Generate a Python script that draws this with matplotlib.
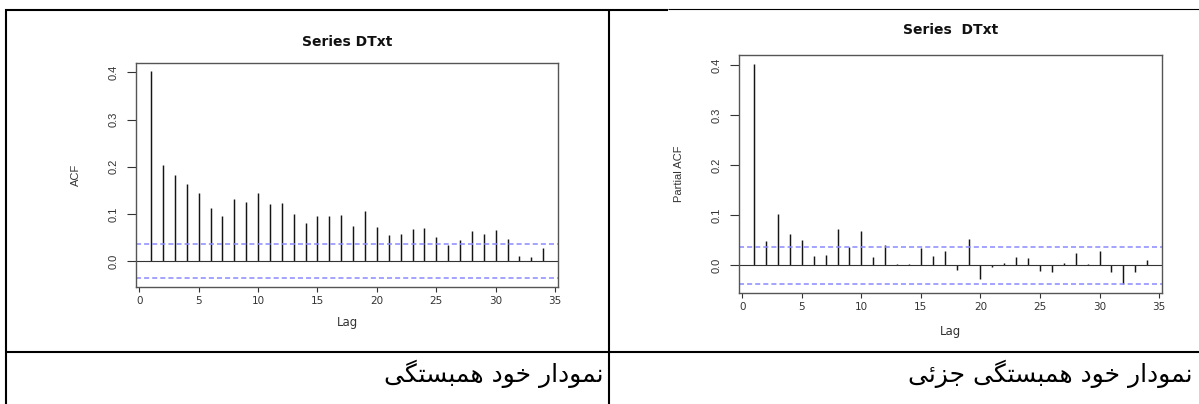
import matplotlib
matplotlib.use('Agg')
import matplotlib.pyplot as plt
from matplotlib.lines import Line2D

# ---------------- data ----------------
lags = list(range(1, 35))
acf_values = [0.403, 0.203, 0.182, 0.163, 0.145, 0.112, 0.095, 0.131, 0.126, 0.145,
              0.120, 0.122, 0.100, 0.080, 0.095, 0.096, 0.098, 0.075, 0.105, 0.071,
              0.056, 0.058, 0.068, 0.069, 0.050, 0.033, 0.045, 0.063, 0.057, 0.065,
              0.047, 0.011, 0.008, 0.028]
pacf_values = [0.403, 0.048, 0.102, 0.063, 0.051, 0.018, 0.020, 0.073, 0.036, 0.068,
               0.016, 0.040, 0.003, 0.002, 0.034, 0.019, 0.028, -0.009, 0.052, -0.028,
               -0.003, 0.004, 0.017, 0.014, -0.011, -0.013, 0.004, 0.025, 0.002, 0.029,
               -0.014, -0.037, -0.013, 0.010]
conf_limit = 0.037
x_ticks = [0, 5, 10, 15, 20, 25, 30, 35]
y_ticks = [0.0, 0.1, 0.2, 0.3, 0.4]
y_tick_labels = ['0.0', '0.1', '0.2', '0.3', '0.4']
titles = ['Series DTxt', 'Series  DTxt']
ylabels = ['ACF', 'Partial ACF']
xlabel = 'Lag'
captions = ['نمودار خود همبستگی', 'نمودار خود همبستگی جزئی']

# ---------------- minimal Arabic/Persian shaping ----------------
FORMS = {
    'ن': ('\uFEE5', '\uFEE6', '\uFEE7', '\uFEE8'),
    'م': ('\uFEE1', '\uFEE2', '\uFEE3', '\uFEE4'),
    'و': ('\uFEED', '\uFEEE'),
    'د': ('\uFEA9', '\uFEAA'),
    'ا': ('\uFE8D', '\uFE8E'),
    'ر': ('\uFEAD', '\uFEAE'),
    'ز': ('\uFEAF', '\uFEB0'),
    'خ': ('\uFEA5', '\uFEA6', '\uFEA7', '\uFEA8'),
    'ه': ('\uFEE9', '\uFEEA', '\uFEEB', '\uFEEC'),
    'ب': ('\uFE8F', '\uFE90', '\uFE91', '\uFE92'),
    'س': ('\uFEB1', '\uFEB2', '\uFEB3', '\uFEB4'),
    'ت': ('\uFE95', '\uFE96', '\uFE97', '\uFE98'),
    'گ': ('\uFB92', '\uFB93', '\uFB94', '\uFB95'),
    'ی': ('\uFBFC', '\uFBFD', '\uFBFE', '\uFBFF'),
    'ج': ('\uFE9D', '\uFE9E', '\uFE9F', '\uFEA0'),
    'ئ': ('\uFE89', '\uFE8A', '\uFE8B', '\uFE8C'),
}


def shape(text):
    out = []
    n = len(text)
    for i, ch in enumerate(text):
        if ch not in FORMS:
            out.append(ch)
            continue
        forms = FORMS[ch]
        prev = text[i - 1] if i > 0 else None
        nxt = text[i + 1] if i < n - 1 else None
        jp = prev in FORMS and len(FORMS[prev]) == 4
        jn = nxt in FORMS and len(forms) == 4
        if jp and jn:
            out.append(forms[3])
        elif jp:
            out.append(forms[1])
        elif jn:
            out.append(forms[2])
        else:
            out.append(forms[0])
    return ''.join(reversed(out))


# ---------------- figure ----------------
W, H = 1199, 404
fig = plt.figure(figsize=(W / 100, H / 100), dpi=100)
fig.patch.set_facecolor('white')


def fx(px):
    return px / W


def fy(py):
    return 1 - py / H


def make_axes(l, t, r, b):
    return fig.add_axes([fx(l), fy(b), fx(r) - fx(l), fy(t) - fy(b)])


ax1 = make_axes(136, 62.7, 558.3, 286.7)
ax2 = make_axes(739, 55, 1162.3, 292.7)

TICK_FONT = 'DejaVu Sans'
TXT = '#333333'


def draw(ax, values, title, ylabel, title_y, xlabel_y, ylabel_x):
    ax.vlines(lags, 0, values, color='#151515', lw=1.05)
    ax.axhline(0, color='#333333', lw=0.8)
    for s in (conf_limit, -conf_limit):
        ax.axhline(s, color='#8a8aff', lw=1.1, dashes=(3.3, 2.0))
    ax.set_xlim(-0.27, 35.27)
    ax.set_ylim(-0.0546, 0.4206)
    ax.set_xticks(x_ticks)
    ax.set_xticklabels([str(t) for t in x_ticks], fontsize=7.5, family=TICK_FONT,
                       color=TXT)
    ax.set_yticks(y_ticks)
    ax.set_yticklabels(y_tick_labels, fontsize=8, family='Liberation Sans',
                       rotation=90, va='center', color=TXT)
    ax.tick_params(axis='x', length=3.6, width=0.8, color='#333333', pad=3)
    ax.tick_params(axis='y', length=6.5, width=0.8, color='#333333', pad=6)
    for sp in ax.spines.values():
        sp.set_color('#555555')
        sp.set_linewidth(1.0)
    ax.set_title(title, fontsize=10, fontweight='bold', family='DejaVu Sans',
                 y=title_y, va='center', pad=0, color='#111111')
    ax.set_xlabel(xlabel, fontsize=8.5, family=TICK_FONT, va='center', color=TXT)
    ax.xaxis.set_label_coords(0.5, xlabel_y)
    ax.set_ylabel(ylabel, fontsize=8, family='Liberation Sans', va='center',
                  color=TXT)
    ax.yaxis.set_label_coords(ylabel_x, 0.5)


draw(ax1, acf_values, titles[0], ylabels[0], 1.094, -0.162, -0.141)
draw(ax2, pacf_values, titles[1], ylabels[1], 1.105, -0.165, -0.141)

# ---------------- table borders ----------------
def hline(x0, x1, y, lw):
    fig.add_artist(Line2D([fx(x0), fx(x1)], [fy(y), fy(y)], transform=fig.transFigure,
                          color='black', lw=lw, solid_capstyle='butt'))


def vline(x, y0, y1, lw):
    fig.add_artist(Line2D([fx(x), fx(x)], [fy(y0), fy(y1)], transform=fig.transFigure,
                          color='black', lw=lw, solid_capstyle='butt'))


hline(4.5, 668, 10, 1.5)
hline(668, 1199, 9, 0.8)
vline(5.5, 9.3, 404, 1.5)
vline(609, 9.3, 404, 1.5)
hline(4.5, 1199, 351.5, 1.5)

# ---------------- captions ----------------
fig.text(fx(604), fy(382), shape(captions[0]), ha='right', va='baseline',
         fontsize=18, family=['DejaVu Sans'], color='black')
fig.text(fx(1192), fy(382), shape(captions[1]), ha='right', va='baseline',
         fontsize=18, family=['DejaVu Sans'], color='black')

fig.savefig('out.png', dpi=100, facecolor='white')
